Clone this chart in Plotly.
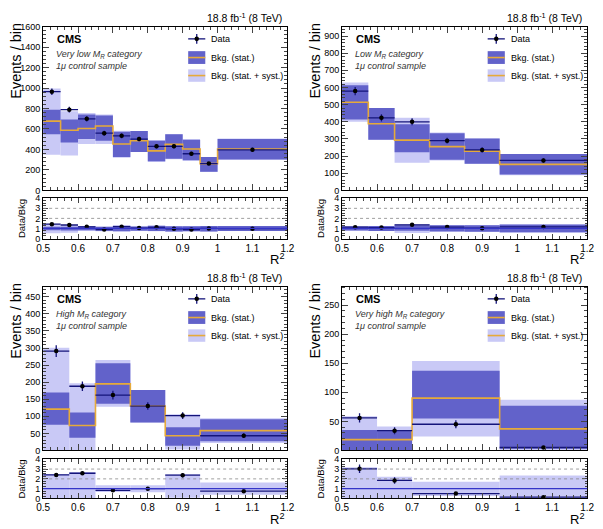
import plotly.graph_objects as go
import numpy as np

# ---------------- data ----------------
p1_edges = [0.50, 0.55, 0.60, 0.65, 0.70, 0.75, 0.80, 0.85, 0.90, 0.95, 1.00, 1.20]
p1_bkg = [677, 588, 604, 629, 453, 485, 386, 450, 405, 262, 405]
p1_stat_lo = [549, 469, 501, 485, 326, 374, 284, 310, 294, 182, 303]
p1_stat_hi = [789, 693, 741, 731, 572, 581, 485, 549, 495, 326, 501]
p1_syst_lo = [348, 342, 453, 453, 318, 374, 278, 305, 290, 180, 300]
p1_syst_hi = [996, 773, 757, 741, 583, 581, 492, 549, 500, 326, 507]
p1_data = [964, 789, 699, 559, 533, 501, 431, 431, 358, 262, 396]
p1_err = [31, 28, 26, 24, 23, 22, 21, 21, 19, 16, 20]

p2_edges = [0.50, 0.575, 0.65, 0.75, 0.85, 0.95, 1.20]
p2_bkg = [514, 389, 293, 255, 229, 152]
p2_stat_lo = [413, 295, 223, 179, 156, 93]
p2_stat_hi = [613, 480, 385, 333, 303, 213]
p2_syst_lo = [400, 295, 162, 175, 156, 88]
p2_syst_hi = [629, 480, 423, 337, 303, 213]
p2_data = [579, 423, 400, 290, 236, 175]
p2_err = [24, 21, 20, 17, 15, 13]

p3_edges = [0.50, 0.575, 0.65, 0.75, 0.85, 0.95, 1.20]
p3_bkg = [121, 73, 195, 130, 43, 58]
p3_stat_lo = [75, 37, 137, 82, 14, 27]
p3_stat_hi = [170, 111, 255, 177, 68, 91]
p3_syst_lo = [0, 0, 128, 82, 3, 22]
p3_syst_hi = [301, 197, 265, 177, 106, 94]
p3_data = [291, 188, 162, 130, 102, 43]
p3_err = [17, 14, 13, 11, 10, 7]

p4_edges = [0.50, 0.60, 0.70, 0.95, 1.20]
p4_bkg = [18.5, 18.5, 90, 37]
p4_stat_lo = [0, 0, 55, 3]
p4_stat_hi = [35, 35, 137, 77]
p4_syst_lo = [0, 0, 24, 0]
p4_syst_hi = [59, 41, 154, 87]
p4_data = [56, 34, 45, 5]
p4_err = [8, 6, 7, 2.2]

categories = ["Very low <i>M</i><sub>R</sub> category", "Low <i>M</i><sub>R</sub> category",
              "High <i>M</i><sub>R</sub> category", "Very high <i>M</i><sub>R</sub> category"]
y_max = [1600, 955, 480, 282]
y_dtick = [200, 100, 50, 50]
y_minor = [40, 20, 10, 10]
ratio_show_stat = [True, True, False, False]
x_ticks = [0.5, 0.6, 0.7, 0.8, 0.9, 1.0, 1.1, 1.2]
x_ticklabels = ["0.5", "0.6", "0.7", "0.8", "0.9", "1", "1.1", "1.2"]

panels = [
    (p1_edges, p1_bkg, p1_stat_lo, p1_stat_hi, p1_syst_lo, p1_syst_hi, p1_data, p1_err),
    (p2_edges, p2_bkg, p2_stat_lo, p2_stat_hi, p2_syst_lo, p2_syst_hi, p2_data, p2_err),
    (p3_edges, p3_bkg, p3_stat_lo, p3_stat_hi, p3_syst_lo, p3_syst_hi, p3_data, p3_err),
    (p4_edges, p4_bkg, p4_stat_lo, p4_stat_hi, p4_syst_lo, p4_syst_hi, p4_data, p4_err),
]

# ---------------- style ----------------
W, H = 603, 529
FONT = "Liberation Sans, Arial, Helvetica, sans-serif"
C_DARK = "#6262ca"
C_LIGHT = "#c9c9f6"
C_LINE = "#e6aa3a"
C_NAVY = "#14147a"
C_ONE = "#3434c8"

# pixel geometry of panels (left, right) and (main top, main bottom, ratio top, ratio bottom)
cols = [(37, 287), (343, 594)]
rows = [(22, 189, 197, 238), (287, 454, 463, 503)]


def px_x(p):
    return p / W


def px_y(p):
    return 1 - p / H


fig = go.Figure()
layout = dict(width=W, height=H, margin=dict(l=0, r=0, t=0, b=0),
              paper_bgcolor="white", plot_bgcolor="white", showlegend=False,
              barmode="overlay", font=dict(family=FONT, size=9, color="black"))
shapes = []
annotations = []

for i, (edges, bkg, slo, shi, ylo, yhi, data, err) in enumerate(panels):
    r, c = divmod(i, 2)
    L, R = cols[c]
    mt, mb, rt, rb = rows[r]
    xm, ym = 2 * i + 1, 2 * i + 1
    xr, yr = 2 * i + 2, 2 * i + 2
    xm_name = "xaxis" if xm == 1 else f"xaxis{xm}"
    ym_name = "yaxis" if ym == 1 else f"yaxis{ym}"
    xr_name, yr_name = f"xaxis{xr}", f"yaxis{yr}"
    xm_ref = "x" if xm == 1 else f"x{xm}"
    ym_ref = "y" if ym == 1 else f"y{ym}"
    xr_ref, yr_ref = f"x{xr}", f"y{yr}"

    edges = np.array(edges, float)
    left = edges[:-1]
    width = np.diff(edges)
    center = left + width / 2
    bkg = np.array(bkg, float)
    slo, shi = np.array(slo, float), np.array(shi, float)
    ylo, yhi = np.array(ylo, float), np.array(yhi, float)
    data, err = np.array(data, float), np.array(err, float)

    # ---- main panel ----
    fig.add_trace(go.Bar(x=left, y=yhi - ylo, base=ylo, width=width, offset=0,
                         marker=dict(color=C_LIGHT, line=dict(width=0)),
                         xaxis=xm_ref, yaxis=ym_ref, hoverinfo="skip"))
    fig.add_trace(go.Bar(x=left, y=shi - slo, base=slo, width=width, offset=0,
                         marker=dict(color=C_DARK, line=dict(width=0)),
                         xaxis=xm_ref, yaxis=ym_ref, hoverinfo="skip"))
    fig.add_trace(go.Scatter(x=list(edges), y=list(bkg) + [bkg[-1]], mode="lines",
                             line=dict(color=C_LINE, width=1.6, shape="hv"),
                             xaxis=xm_ref, yaxis=ym_ref, hoverinfo="skip"))
    fig.add_trace(go.Scatter(x=center, y=data, mode="markers",
                             marker=dict(color="black", size=4.5),
                             error_y=dict(type="data", array=err, color=C_NAVY, thickness=1.3, width=0),
                             error_x=dict(type="data", array=width / 2, color=C_NAVY, thickness=1.3, width=0),
                             xaxis=xm_ref, yaxis=ym_ref, hoverinfo="skip"))

    # ---- ratio panel ----
    fig.add_trace(go.Bar(x=left, y=(yhi - ylo) / bkg, base=ylo / bkg, width=width, offset=0,
                         marker=dict(color=C_LIGHT, line=dict(width=0)),
                         xaxis=xr_ref, yaxis=yr_ref, hoverinfo="skip"))
    if ratio_show_stat[i]:
        fig.add_trace(go.Bar(x=left, y=(shi - slo) / bkg, base=slo / bkg, width=width, offset=0,
                             marker=dict(color=C_DARK, line=dict(width=0)),
                             xaxis=xr_ref, yaxis=yr_ref, hoverinfo="skip"))
    for gy in [2, 3]:
        shapes.append(dict(type="line", xref=f"{xr_ref} domain", yref=yr_ref, x0=0, x1=1, y0=gy, y1=gy,
                           line=dict(color="#888888", width=0.8, dash="dot"), layer="above"))
    shapes.append(dict(type="line", xref=f"{xr_ref} domain", yref=yr_ref, x0=0, x1=1, y0=1, y1=1,
                       line=dict(color=C_ONE, width=1.3), layer="above"))
    fig.add_trace(go.Scatter(x=center, y=data / bkg, mode="markers",
                             marker=dict(color="black", size=4.5),
                             error_y=dict(type="data", array=err / bkg, color=C_NAVY, thickness=1.3, width=0),
                             error_x=dict(type="data", array=width / 2, color=C_NAVY, thickness=1.3, width=0),
                             xaxis=xr_ref, yaxis=yr_ref, hoverinfo="skip"))

    common = dict(showline=True, linecolor="black", linewidth=1, mirror="allticks", ticks="inside",
                  showgrid=False, zeroline=False, tickfont=dict(family=FONT, size=9, color="black"))
    layout[xm_name] = dict(common, domain=[px_x(L), px_x(R)], range=[0.5, 1.2], anchor=ym_ref,
                           tickvals=x_ticks, showticklabels=False, ticklen=6,
                           minor=dict(ticks="inside", ticklen=3, dtick=0.02, tick0=0.5),
                           matches=xr_ref)
    layout[ym_name] = dict(common, domain=[px_y(mb), px_y(mt)], range=[0, y_max[i]], anchor=xm_ref,
                           dtick=y_dtick[i], tick0=0, ticklen=6,
                           minor=dict(ticks="inside", ticklen=3, dtick=y_minor[i], tick0=0))
    layout[xr_name] = dict(common, domain=[px_x(L), px_x(R)], range=[0.5, 1.2], anchor=yr_ref,
                           tickvals=x_ticks, ticktext=x_ticklabels, ticklen=5,
                           tickfont=dict(family=FONT, size=10, color="black"),
                           minor=dict(ticks="inside", ticklen=3, dtick=0.02, tick0=0.5))
    layout[yr_name] = dict(common, domain=[px_y(rb), px_y(rt)], range=[0, 4], anchor=xr_ref,
                           dtick=1, tick0=0, ticklen=5,
                           minor=dict(ticks="inside", ticklen=2.5, dtick=0.25, tick0=0))

    # ---- texts ----
    dx, dy = f"{xm_ref} domain", f"{ym_ref} domain"
    annotations.append(dict(xref=dx, yref=dy, x=0.985, y=1.054, xanchor="right", yanchor="middle",
                            text="18.8 fb<sup>-1</sup> (8 TeV)", showarrow=False,
                            font=dict(family=FONT, size=10.5)))
    annotations.append(dict(xref=dx, yref=dy, x=0.05, y=0.922, xanchor="left", yanchor="middle",
                            text="<b>CMS</b>", showarrow=False, font=dict(family=FONT, size=11)))
    annotations.append(dict(xref=dx, yref=dy, x=0.046, y=0.832, xanchor="left", yanchor="middle",
                            text="<i>" + categories[i] + "</i>", showarrow=False,
                            font=dict(family=FONT, size=9, color="#333333")))
    annotations.append(dict(xref=dx, yref=dy, x=0.046, y=0.76, xanchor="left", yanchor="middle",
                            text="<i>1μ control sample</i>", showarrow=False,
                            font=dict(family=FONT, size=9, color="#333333")))
    # legend
    lx0, lx1 = 0.594, 0.664
    lxc = (lx0 + lx1) / 2
    shapes.append(dict(type="line", xref=dx, yref=dy, x0=lx0, x1=lx1, y0=0.925, y1=0.925,
                       line=dict(color=C_NAVY, width=1.3)))
    shapes.append(dict(type="line", xref=dx, yref=dy, x0=lxc, x1=lxc, y0=0.895, y1=0.955,
                       line=dict(color=C_NAVY, width=1.3)))
    rx, ry = 2.3 / (R - L), 2.3 / (mb - mt)
    shapes.append(dict(type="circle", xref=dx, yref=dy, x0=lxc - rx, x1=lxc + rx,
                       y0=0.925 - ry, y1=0.925 + ry, fillcolor="black", line=dict(width=0)))
    shapes.append(dict(type="rect", xref=dx, yref=dy, x0=lx0, x1=lx1, y0=0.772, y1=0.85,
                       fillcolor=C_DARK, line=dict(width=0)))
    shapes.append(dict(type="line", xref=dx, yref=dy, x0=lx0, x1=lx1, y0=0.811, y1=0.811,
                       line=dict(color=C_LINE, width=1.6)))
    shapes.append(dict(type="rect", xref=dx, yref=dy, x0=lx0, x1=lx1, y0=0.663, y1=0.739,
                       fillcolor=C_LIGHT, line=dict(width=0)))
    shapes.append(dict(type="line", xref=dx, yref=dy, x0=lx0, x1=lx1, y0=0.701, y1=0.701,
                       line=dict(color=C_LINE, width=1.6)))
    for txt, yy in [("Data", 0.925), ("Bkg. (stat.)", 0.811), ("Bkg. (stat. + syst.)", 0.701)]:
        annotations.append(dict(xref=dx, yref=dy, x=0.68, y=yy, xanchor="left", yanchor="middle",
                                text=txt, showarrow=False, font=dict(family=FONT, size=9)))

    # axis titles
    annotations.append(dict(xref="paper", yref="paper", x=px_x(L - 28), y=px_y(mt + 35),
                            xanchor="center", yanchor="middle", textangle=-90, text="Events / bin",
                            showarrow=False, font=dict(family=FONT, size=14.5)))
    annotations.append(dict(xref="paper", yref="paper", x=px_x(L - 22), y=px_y((rt + rb) / 2),
                            xanchor="center", yanchor="middle", textangle=-90, text="Data/Bkg",
                            showarrow=False, font=dict(family=FONT, size=9.5)))
    annotations.append(dict(xref="paper", yref="paper", x=px_x(R - 1), y=px_y(rb + 20.5),
                            xanchor="right", yanchor="middle", text="R<sup>2</sup>",
                            showarrow=False, font=dict(family=FONT, size=13)))

layout["shapes"] = shapes
layout["annotations"] = annotations
fig.update_layout(**layout)
fig.write_html("out.html")
